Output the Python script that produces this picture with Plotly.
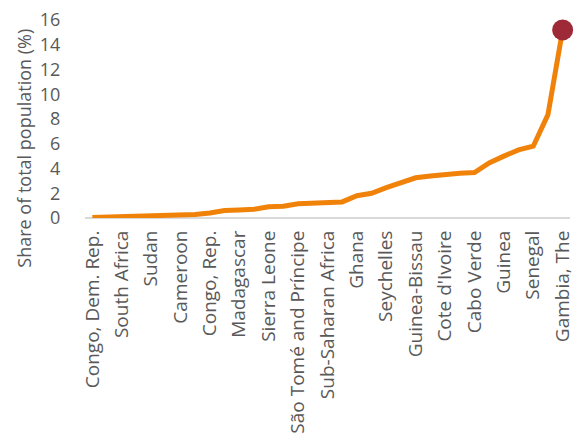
import plotly.graph_objects as go

# Countries ordered by share of total population
countries = [
    "Congo, Dem. Rep.", "Ethiopia", "South Africa", "Nigeria", "Sudan",
    "Kenya", "Cameroon", "Uganda", "Congo, Rep.", "Tanzania", "Madagascar",
    "Mozambique", "Sierra Leone", "Zambia", "São Tomé and Príncipe", "Rwanda",
    "Sub-Saharan Africa", "Togo", "Ghana", "Benin", "Seychelles", "Liberia",
    "Guinea-Bissau", "Burkina Faso", "Cote d'Ivoire", "Mali", "Cabo Verde",
    "Mauritania", "Guinea", "Comoros", "Senegal", "Mauritius", "Gambia, The",
]
share = [
    0.05, 0.07, 0.10, 0.12, 0.15, 0.18, 0.23, 0.28, 0.40, 0.60, 0.65,
    0.70, 0.90, 0.95, 1.15, 1.20, 1.25, 1.30, 1.80, 2.00, 2.45, 2.85,
    3.25, 3.40, 3.55, 3.62, 3.67, 4.45, 5.00, 5.50, 5.80, 8.35, 15.2,
]
labelled = countries[::2]
highlight = "Gambia, The"
y_title = "Share of total population (%)"

font_family = "Open Sans"
grey = "#595959"

fig = go.Figure()
fig.add_trace(go.Scatter(
    x=countries, y=share, mode="lines",
    line=dict(color="#F0820A", width=5),
    hoverinfo="x+y",
))
fig.add_trace(go.Scatter(
    x=[highlight], y=[share[countries.index(highlight)]], mode="markers",
    marker=dict(color="#9E2A37", size=21),
    cliponaxis=False,
))

fig.update_layout(
    width=574, height=434,
    margin=dict(l=85, r=4, t=20, b=216),
    paper_bgcolor="white", plot_bgcolor="white",
    showlegend=False,
    font=dict(family=font_family, size=18, color=grey),
)
fig.update_xaxes(
    type="category", categoryorder="array", categoryarray=countries,
    range=[-0.5, len(countries) - 0.5],
    tickmode="array", tickvals=labelled, ticktext=labelled,
    tickangle=-90, tickfont=dict(size=19, color=grey),
    ticks="outside", ticklen=4, tickcolor="rgba(0,0,0,0)",
    showgrid=False, showline=False, zeroline=False,
    automargin=False,
)
fig.update_yaxes(
    range=[0, 16], dtick=2, tick0=0,
    tickfont=dict(size=18, color=grey),
    ticks="outside", ticklen=20, tickcolor="rgba(0,0,0,0)",
    showgrid=False, showline=False,
    zeroline=True, zerolinecolor="#D9D9D9", zerolinewidth=2,
    automargin=False,
)
# Axis title placed as an annotation so it can sit below the plot centre
fig.add_annotation(
    text=y_title, textangle=-90, showarrow=False,
    xref="paper", x=0, xanchor="center", xshift=-61,
    yref="paper", y=0.35, yanchor="middle",
    font=dict(size=18, color=grey),
)

fig.write_html("out.html")
